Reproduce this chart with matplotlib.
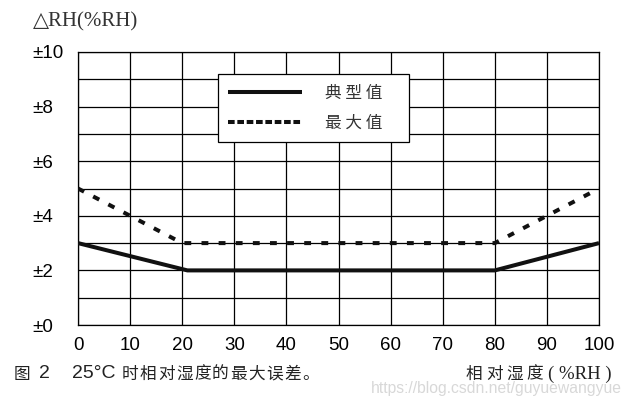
import matplotlib
matplotlib.use("Agg")
import matplotlib.pyplot as plt
from matplotlib.lines import Line2D

# data
rh_typ = [0, 21, 80, 100]
err_typ = [3, 2, 2, 3]
rh_max = [0, 20, 80, 100]
err_max = [5, 3, 3, 5]

xticks = list(range(0, 101, 10))
yticks = list(range(0, 11, 2))
ytick_labels = ["±%d" % v for v in yticks]
legend_labels = ["典 型 值\u3000", "最 大 值\u3000"]

cjk = ["Noto Sans CJK SC", "DejaVu Sans"]
W, H = 632, 405

fig = plt.figure(figsize=(W / 100, H / 100), dpi=100)
ax = fig.add_axes([78 / W, 1 - 325 / H, 521 / W, 273 / H])

ax.plot(rh_typ, err_typ, color="#111111", lw=2.9, solid_capstyle="butt", zorder=3)
ax.plot(rh_max, err_max, color="#111111", lw=2.9, linestyle=(0, (1.7, 2.55)), zorder=3)

ax.set_xlim(0, 100)
ax.set_ylim(0, 10)
ax.set_xticks(xticks)
ax.set_yticks(yticks)
ax.set_yticks(range(0, 11), minor=True)
ax.set_yticklabels(ytick_labels)
ax.grid(True, which="both", color="black", lw=0.9)
ax.set_axisbelow(True)
for s in ax.spines.values():
    s.set_linewidth(0.9)

ax.tick_params(which="both", length=0)
ax.tick_params(axis="x", pad=9, labelsize=13.5)
ax.tick_params(axis="y", pad=33, labelsize=13.5)
for lab in ax.get_yticklabels():
    lab.set_fontfamily("Liberation Sans")
    lab.set_horizontalalignment("left")
for lab in ax.get_xticklabels():
    lab.set_fontfamily("Liberation Sans")

# legend with tighter dash pattern in the handle
h1 = Line2D([], [], color="#111111", lw=2.9, solid_capstyle="butt")
h2 = Line2D([], [], color="#111111", lw=2.9, linestyle=(0, (1.65, 0.67)))
leg = ax.legend([h1, h2], legend_labels, loc="upper left",
                bbox_to_anchor=(0.269, 0.919), fancybox=False, framealpha=1,
                edgecolor="black", handlelength=4.4, handletextpad=1.4,
                labelspacing=0.8, borderpad=0.62, borderaxespad=0,
                prop={"family": cjk, "size": 12})
leg.get_frame().set_linewidth(0.9)
for t in leg.get_texts():
    t.set_color("#333333")

fig.text(33 / W, 1 - 22 / H, "△RH(%RH)", family=["Liberation Serif", "DejaVu Sans"],
         fontsize=15, color="#333333", va="center", ha="left")

# caption under the chart
cy = 1 - 374 / H
fig.text(14 / W, cy, "图", family=cjk, fontsize=12, color="#222222", va="center")
fig.text(39 / W, cy, "2", family="Liberation Sans", fontsize=14, color="#222222", va="center")
fig.text(72 / W, cy, "25°C", family="Liberation Sans", fontsize=14, color="#222222", va="center")
for i, ch in enumerate("时相对湿度的最大误差。"):
    fig.text((122 + 18 * i) / W, cy, ch, family=cjk, fontsize=12, color="#222222", va="center")

for i, ch in enumerate("相对湿度"):
    fig.text((466 + 20 * i) / W, cy, ch, family=cjk, fontsize=12, color="#222222", va="center")
fig.text(612 / W, cy, "( %RH )", family="Liberation Serif", fontsize=13.5, color="#222222",
         va="center", ha="right")
fig.text(622 / W, 1 - 389 / H, "https://blog.csdn.net/guyuewangyue",
         family="Liberation Sans", fontsize=11.3, color="#d8d8d8", va="center", ha="right")

fig.savefig("out.png", dpi=100)
